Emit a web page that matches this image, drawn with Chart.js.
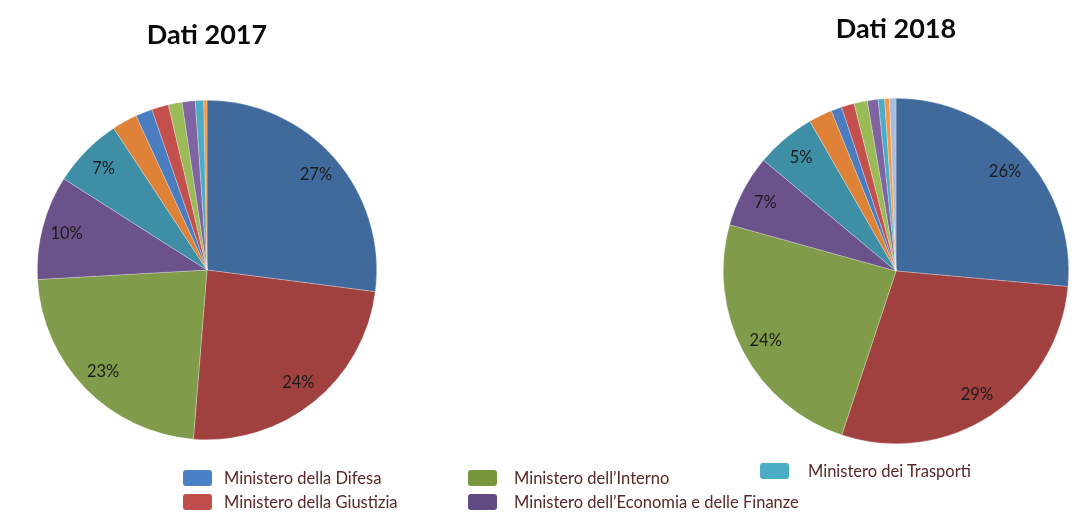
<!DOCTYPE html>
<html>
<head>
<meta charset="utf-8">
<script src="https://cdn.jsdelivr.net/npm/chart.js@4/dist/chart.umd.min.js"></script>
<style>
  body { margin: 0; background: #fff; width: 1091px; height: 520px; position: relative; overflow: hidden; font-family: Lato, "Open Sans", sans-serif; }
  .box { position: absolute; }
  #legend { position: absolute; left: 0; top: 0; width: 1091px; height: 520px; pointer-events: none; }
  .item { position: absolute; height: 20px; line-height: 20px; font-size: 16.5px; color: #5a2828; white-space: nowrap; }
  .sw { position: absolute; width: 29px; height: 16px; border-radius: 3px; filter: blur(0.4px); }
</style>
</head>
<body>
<div class="box" style="left:27px;top:0;width:360px;height:440px"><canvas id="pie2017"></canvas></div>
<div class="box" style="left:716px;top:0;width:360px;height:444px"><canvas id="pie2018"></canvas></div>
<div id="legend"></div>

<script>
// ====== data ======
const ministeri = [
  'Ministero della Difesa',
  'Ministero della Giustizia',
  "Ministero dell\u2019Interno",
  "Ministero dell\u2019Economia e delle Finanze",
  'Ministero dei Trasporti'
];
// smaller, unnamed ministries (no legend entry in the original)
const altri2017 = ['Altro 1', 'Altro 2', 'Altro 3', 'Altro 4', 'Altro 5', 'Altro 6', 'Altro 7'];
const altri2018 = ['Altro 1', 'Altro 2', 'Altro 3', 'Altro 4', 'Altro 5', 'Altro 6', 'Altro 7', 'Altro 8'];

const quote2017 = [27.0, 24.2, 22.8, 9.9, 6.7, 2.4, 1.6, 1.6, 1.3, 1.25, 0.8, 0.3];
const quote2018 = [26.4, 28.6, 24.2, 6.75, 5.6, 2.2, 1.0, 1.2, 1.25, 1.0, 0.6, 0.45, 0.6];

const etichette2017 = ['27%', '24%', '23%', '10%', '7%'];
const etichette2018 = ['26%', '29%', '24%', '7%', '5%'];

const sliceColors = [
  '#416a9c', '#a04140', '#809b4a', '#6b528a', '#3e8ea6',
  '#dd8237', '#4a7dc0', '#c4504d', '#9bbb59', '#8064a2', '#4bacc6', '#f79646', '#a8bcdb'
];
const legendColors = ['#4a80c6', '#c24e4c', '#78973c', '#5f4a82', '#4bacc6'];

// ====== label plugin: percent text inside the big slices ======
const pctLabels = {
  id: 'pctLabels',
  afterDatasetsDraw(chart, args, opts) {
    const ctx = chart.ctx;
    const meta = chart.getDatasetMeta(0);
    ctx.save();
    ctx.font = '16.5px Lato, "Open Sans", sans-serif';
    ctx.fillStyle = '#1c1c1c';
    ctx.textAlign = 'center';
    ctx.textBaseline = 'middle';
    opts.labels.forEach((txt, i) => {
      const arc = meta.data[i];
      const p = arc.getProps(['x', 'y', 'startAngle', 'endAngle', 'outerRadius']);
      const mid = (p.startAngle + p.endAngle) / 2;
      const r = p.outerRadius * 0.855;
      ctx.fillText(txt, p.x + Math.cos(mid) * r, p.y + Math.sin(mid) * r);
    });
    ctx.restore();
  }
};

function makePie(id, titleText, values, names, labels, padTop, padBottom) {
  new Chart(document.getElementById(id), {
    type: 'pie',
    data: {
      labels: names,
      datasets: [{
        data: values,
        backgroundColor: sliceColors.slice(0, values.length),
        borderColor: 'rgba(255,255,255,0.45)',
        borderWidth: 0.6
      }]
    },
    options: {
      responsive: true,
      maintainAspectRatio: false,
      animation: false,
      layout: { padding: 0 },
      plugins: {
        legend: { display: false },
        tooltip: { enabled: false },
        title: {
          display: true,
          text: titleText,
          color: '#0a0a0a',
          font: { family: 'Lato, "Open Sans", sans-serif', size: 27, weight: 'bold', lineHeight: 1.2 },
          padding: { top: padTop, bottom: padBottom }
        },
        pctLabels: { labels: labels }
      }
    },
    plugins: [pctLabels]
  });
}

makePie('pie2017', 'Dati 2017', quote2017, ministeri.concat(altri2017), etichette2017, 19, 48.6);
makePie('pie2018', 'Dati 2018', quote2018, ministeri.concat(altri2018), etichette2018, 13, 52.6);

// ====== legend (3 columns, filled top-down) ======
// [swatch x, text x, centre y]
const legendPos = [
  [183, 224, 478], [183, 224, 502], [468, 514, 478], [468, 514, 502], [760, 808, 471]
];
const legend = document.getElementById('legend');
ministeri.forEach((name, i) => {
  const [sx, tx, cy] = legendPos[i];
  const sw = document.createElement('div');
  sw.className = 'sw';
  sw.style.left = sx + 'px';
  sw.style.top = (cy - 8) + 'px';
  sw.style.background = legendColors[i];
  legend.appendChild(sw);
  const el = document.createElement('div');
  el.className = 'item';
  el.style.left = tx + 'px';
  el.style.top = (cy - 10) + 'px';
  el.textContent = name;
  legend.appendChild(el);
});
</script>
</body>
</html>
